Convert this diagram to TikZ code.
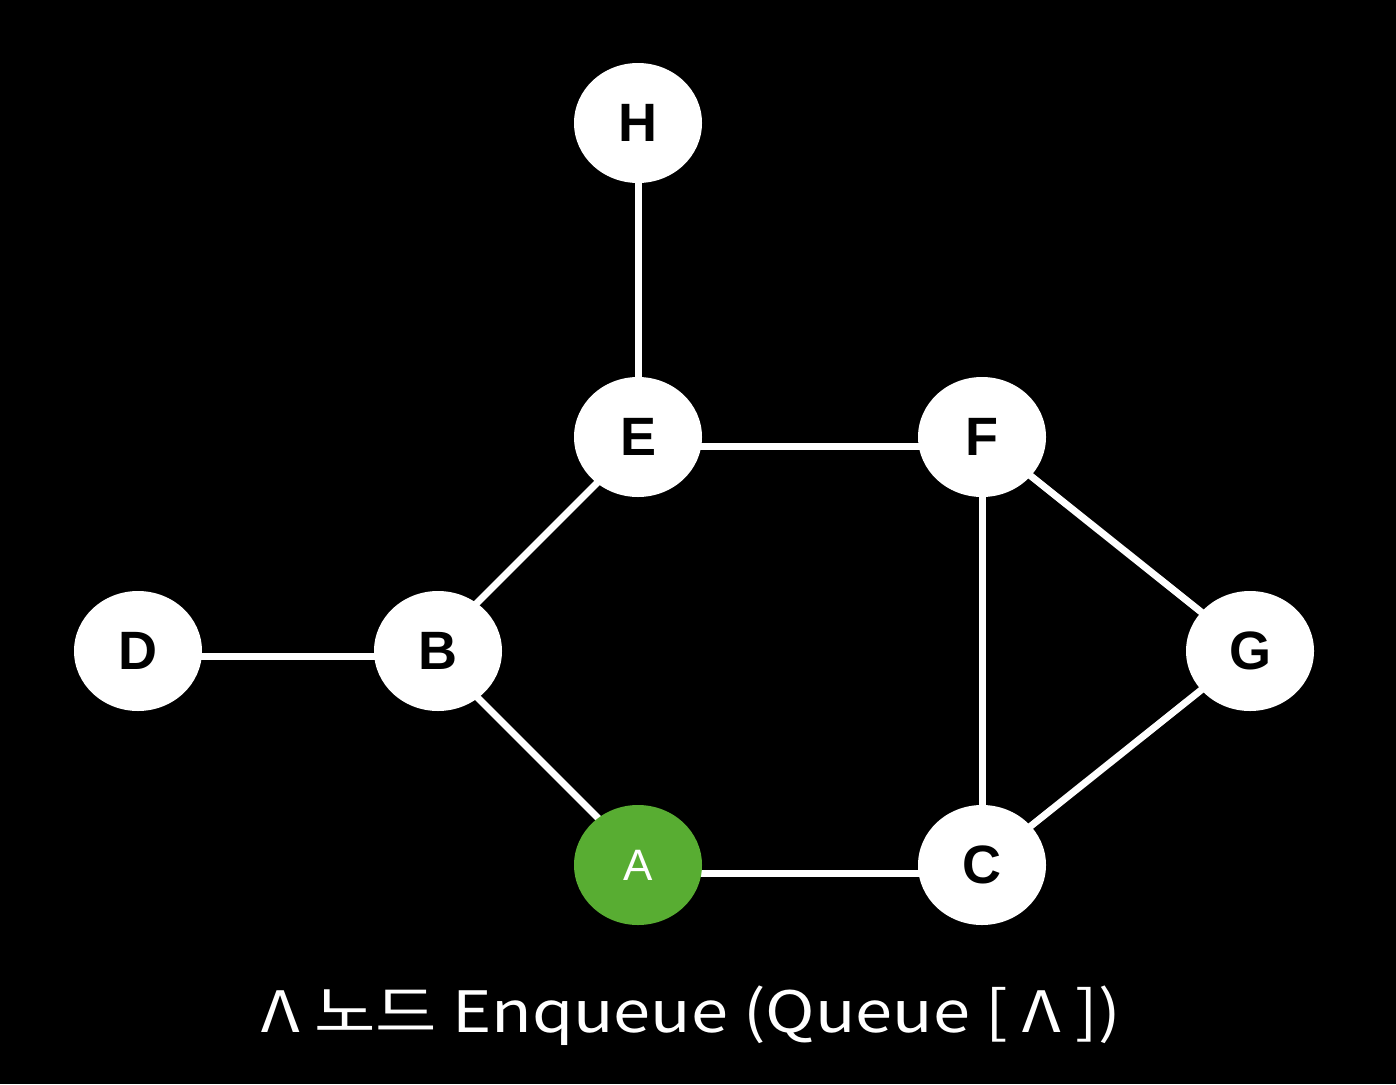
\documentclass[tikz,border=0pt]{standalone}
\usepackage{fontspec}
\usepackage{graphicx}
\usetikzlibrary{shapes.geometric}
\setmainfont{Liberation Sans}
\newfontfamily\krfont{Noto Sans CJK KR}
\definecolor{nodegreen}{HTML}{58AD32}
\begin{document}
\begin{tikzpicture}[x=1pt,y=-1pt,
  vert/.style={ellipse, fill=white, minimum width=128pt, minimum height=120pt, inner sep=0pt,
    font=\fontsize{54}{54}\selectfont\bfseries, text=black},
  visited/.style={vert, fill=nodegreen, text=white, font=\fontsize{44}{44}\selectfont},
  edge/.style={draw=white, line width=7pt}]
\fill[black] (0,0) rectangle (1396,1084);
\useasboundingbox (0,0) rectangle (1396,1084);
\coordinate (pH) at (638,123);
\coordinate (pE) at (638,437);
\coordinate (pF) at (982,437);
\coordinate (pD) at (138,651);
\coordinate (pB) at (438,651);
\coordinate (pG) at (1250,651);
\coordinate (pA) at (638,865);
\coordinate (pC) at (982,865);
% edges (attachment points as in the reference)
\draw[edge] (pH) -- (pE);
\draw[edge] ([yshift=-9pt]pE) -- ([yshift=-9pt]pF);
\draw[edge] ([yshift=-5pt]pE) -- ([yshift=9pt]pB);
\draw[edge] ([yshift=-5pt]pD) -- ([yshift=-5pt]pB);
\draw[edge] ([yshift=-7pt]pB) -- ([yshift=7pt]pA);
\draw[edge] ([yshift=-8pt]pA) -- ([yshift=-8pt]pC);
\draw[edge] (pF) -- (pC);
\draw[edge] (pF) -- (pG);
\draw[edge] (pG) -- (pC);
% nodes
\node[vert] (H) at (pH) {H};
\node[vert] (E) at (pE) {E};
\node[vert] (F) at (pF) {F};
\node[vert] (D) at (pD) {D};
\node[vert] (B) at (pB) {B};
\node[vert] (G) at (pG) {G};
\node[visited] (A) at (pA) {A};
\node[vert] (C) at (pC) {C};
\node[anchor=base, text=white, inner sep=0pt, font=\krfont\fontsize{57}{57}\selectfont] (cap) at (691,1032) {\scalebox{1.17}[1]{Λ 노드 Enqueue (Queue [ Λ ])}};
\end{tikzpicture}
\end{document}
